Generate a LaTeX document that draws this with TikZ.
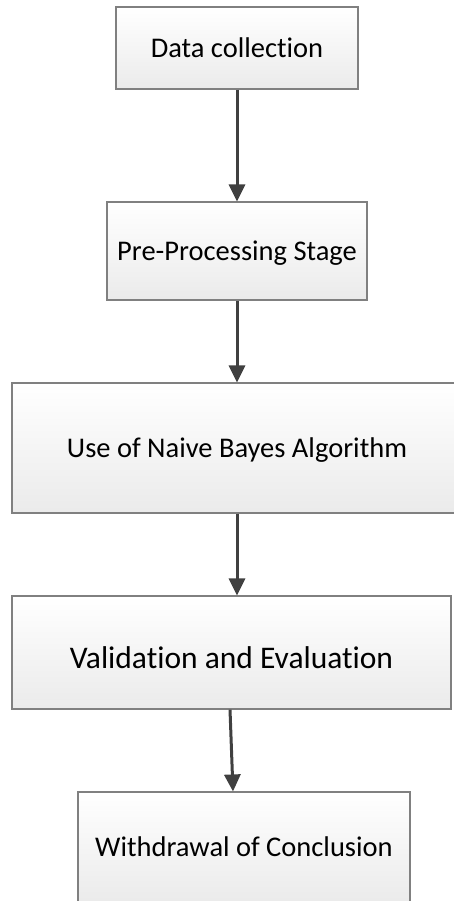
\documentclass[tikz,border=0pt]{standalone}
\usepackage{fontspec}
\setmainfont{Carlito}[Ligatures=NoCommon]
\usetikzlibrary{arrows,arrows.meta}

\begin{document}
\begin{tikzpicture}[x=1pt, y=-1pt,
  stage/.style={draw=black!50, line width=1.1pt, rectangle, inner sep=0pt,
    top color=white, bottom color=black!8,
    font=\fontsize{28.5}{34}\selectfont, text height=18.4pt, text depth=0pt},
  flow/.style={arrows={-Triangle[length=17pt,width=16pt]}, line width=3pt, draw=black!75}]
\useasboundingbox (0,0) rectangle (453,901);

\node[stage, minimum width=242pt, minimum height=82pt] at (237,48) (collect) {Data collection};
\node[stage, minimum width=260pt, minimum height=98pt] at (237,251) (prep) {Pre-Processing Stage};
\node[stage, minimum width=450pt, minimum height=130pt] at (237,448) (naive) {Use of Naive Bayes Algorithm};
\node[stage, minimum width=439pt, minimum height=113pt, font=\fontsize{31.5}{38}\selectfont,
  text height=32pt] at (231.5,652.5) (valid) {Validation and Evaluation};
\node[stage, minimum width=332pt, minimum height=110pt] at (244,847) (conclude) {Withdrawal of Conclusion};

\draw[flow] (collect) to (prep);
\draw[flow] (prep) to (naive);
\draw[flow] (naive.south) to (naive.south |- valid.north);
\draw[flow] ([xshift=-1.5pt]valid.south) to ([xshift=-11pt]conclude.north);
\end{tikzpicture}
\end{document}
